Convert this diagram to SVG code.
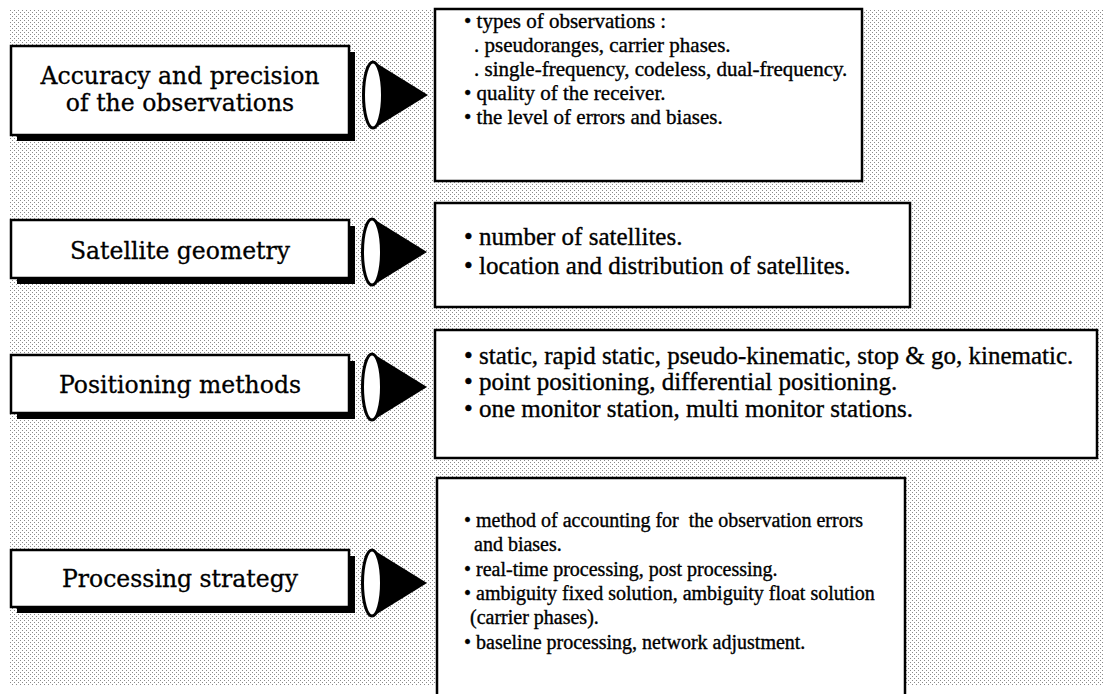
<svg xmlns="http://www.w3.org/2000/svg" width="1103" height="694" viewBox="0 0 1103 694">
  <defs>
    <!-- fine halftone screen used as the page tint -->
    <pattern id="dots" width="4" height="4" patternUnits="userSpaceOnUse">
      <rect width="4" height="4" fill="#ffffff"/>
      <rect x="0" y="0" width="1" height="1" fill="#8a8a8a"/>
      <rect x="2" y="2" width="1" height="1" fill="#8a8a8a"/>
    </pattern>
    <!-- loudspeaker-style cone pointing right; origin at the rim centre -->
    <g id="cone">
      <polygon points="0,-34 55,0 0,34" fill="#000"/>
      <ellipse cx="0" cy="0" rx="9.5" ry="33" fill="#fff" stroke="#000" stroke-width="3"/>
    </g>
  </defs>
  <style>
    .topic .shadow { fill: #000; }
    .topic .face { fill: #fff; stroke: #000; stroke-width: 2.5; }
    .topic text { font-family: "DejaVu Serif", "Liberation Serif", serif; font-size: 23.5px; text-anchor: middle; fill: #000; stroke: #000; stroke-width: 0.3; }
    .detail rect { fill: #fff; stroke: #000; stroke-width: 2.5; }
    .detail text { font-family: "Liberation Serif", "Times New Roman", serif; fill: #000; stroke: #000; stroke-width: 0.35; }
    .small text { font-size: 21px; }
    .large text { font-size: 25px; }
    .tiny text { font-size: 20px; }
  </style>

  <rect x="0" y="0" width="1103" height="694" fill="#fff"/>
  <rect x="10" y="9" width="1093" height="676" fill="url(#dots)"/>

  <!-- factor boxes on the left -->
  <g id="topic-accuracy" class="topic">
    <rect class="shadow" x="17" y="52" width="338" height="89"/>
    <rect class="face" x="11" y="46" width="338" height="89"/>
    <text x="180" y="84">Accuracy and precision</text>
    <text x="180" y="111">of the observations</text>
  </g>
  <g id="topic-geometry" class="topic">
    <rect class="shadow" x="17" y="226" width="338" height="58"/>
    <rect class="face" x="11" y="220" width="338" height="58"/>
    <text x="180" y="259">Satellite geometry</text>
  </g>
  <g id="topic-methods" class="topic">
    <rect class="shadow" x="17" y="361" width="338" height="58"/>
    <rect class="face" x="11" y="355" width="338" height="58"/>
    <text x="180" y="393">Positioning methods</text>
  </g>
  <g id="topic-processing" class="topic">
    <rect class="shadow" x="17" y="556" width="338" height="57"/>
    <rect class="face" x="11" y="550" width="338" height="57"/>
    <text x="180" y="587">Processing strategy</text>
  </g>

  <!-- cones linking each factor to its details -->
  <g id="connectors">
    <use href="#cone" x="373" y="95"/>
    <use href="#cone" x="372" y="252"/>
    <use href="#cone" x="372" y="387"/>
    <use href="#cone" x="372" y="583"/>
  </g>

  <!-- detail boxes on the right -->
  <g id="detail-accuracy" class="detail small">
    <rect x="435" y="9" width="427" height="172"/>
    <text x="464" y="28">• types of observations :</text>
    <text x="474" y="52">. pseudoranges, carrier phases.</text>
    <text x="474" y="76">. single-frequency, codeless, dual-frequency.</text>
    <text x="464" y="100">• quality of the receiver.</text>
    <text x="464" y="124">• the level of errors and biases.</text>
  </g>
  <g id="detail-geometry" class="detail large">
    <rect x="435" y="203" width="475" height="104"/>
    <text x="464" y="245">• number of satellites.</text>
    <text x="464" y="274">• location and distribution of satellites.</text>
  </g>
  <g id="detail-methods" class="detail large">
    <rect x="435" y="330" width="662" height="128"/>
    <text x="464" y="364">• static, rapid static, pseudo-kinematic, stop &amp; go, kinematic.</text>
    <text x="464" y="390">• point positioning, differential positioning.</text>
    <text x="464" y="417">• one monitor station, multi monitor stations.</text>
  </g>
  <g id="detail-processing" class="detail tiny">
    <rect x="437" y="478" width="468" height="240"/>
    <text x="464" y="527" xml:space="preserve">• method of accounting for  the observation errors</text>
    <text x="474" y="551">and biases.</text>
    <text x="464" y="576">• real-time processing, post processing.</text>
    <text x="464" y="600">• ambiguity fixed solution, ambiguity float solution</text>
    <text x="470" y="624">(carrier phases).</text>
    <text x="464" y="649">• baseline processing, network adjustment.</text>
  </g>
</svg>
